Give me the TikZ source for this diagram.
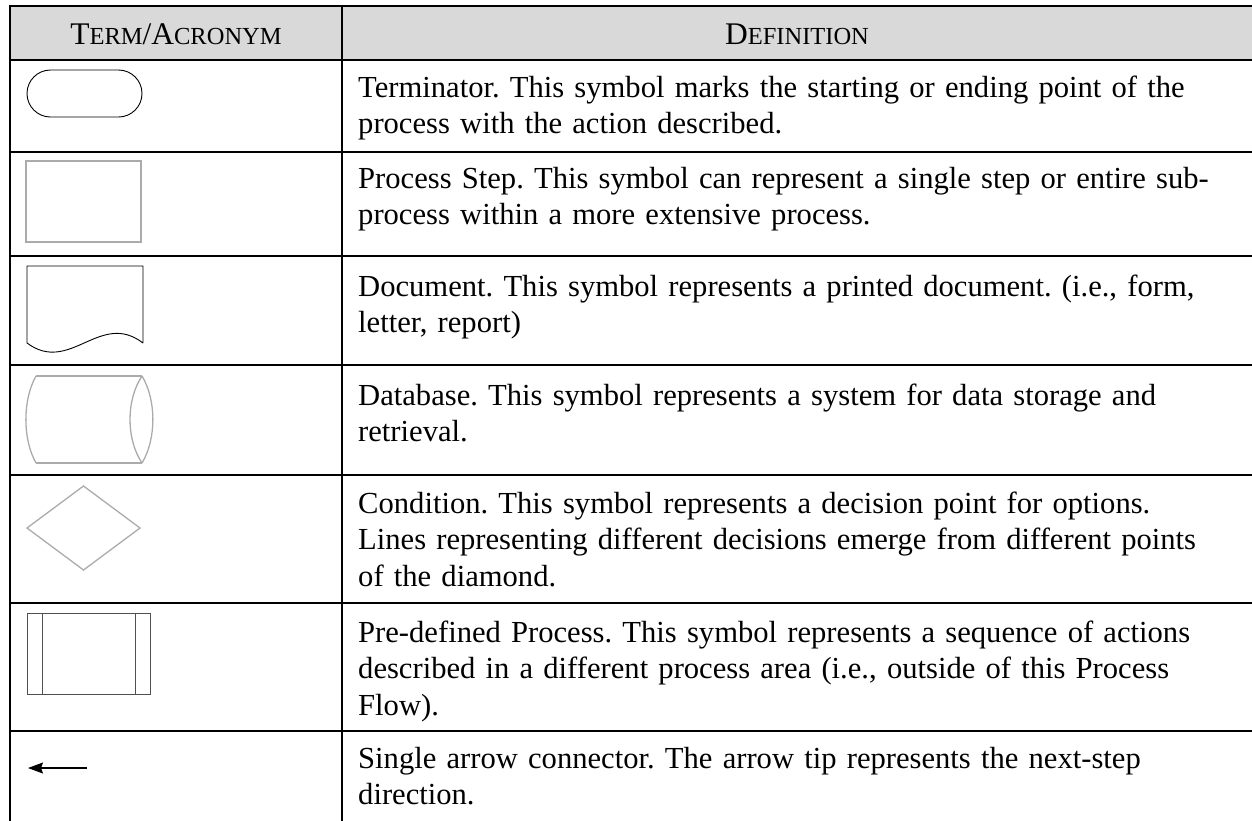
\documentclass[tikz,border=0pt]{standalone}
\usepackage{fontspec}
\setmainfont{Liberation Serif}
\usetikzlibrary{arrows.meta}
\definecolor{headgray}{HTML}{D9D9D9}
\definecolor{symgray}{HTML}{ABABAB}
\definecolor{predark}{HTML}{505050}
\newcommand{\smc}[1]{{\fontsize{24.5}{24.5}\selectfont #1}}
\frenchspacing
\begin{document}
\begin{tikzpicture}[x=1pt,y=-1pt,
  grid/.style={line width=1.6pt, black, line cap=rect},
  sym/.style={line width=0.9pt, black},
  graysym/.style={line width=1.3pt, symgray},
  predef/.style={line width=0.9pt, predark},
  deftext/.style={anchor=base west, inner sep=0pt, text width=1000pt, align=left,
                  font=\fontsize{30.6}{36.5}\selectfont},
  headtext/.style={anchor=base, inner sep=0pt, font=\fontsize{31.5}{36.5}\selectfont}]
\useasboundingbox (0,0) rectangle (1252,820);
% header background
\fill[headgray] (10,6) rectangle (1252,60);
% grid
\foreach \yy in {6,60,152,256,365,475,603,731}
  \draw[grid] (10,\yy) -- (1252,\yy);
\draw[grid] (10,6) -- (10,820);
\draw[grid] (342,6) -- (342,820);
% header
\node[headtext] (hterm) at (176,44) {T\smc{ERM}/A\smc{CRONYM}};
\node[headtext] (hdef) at (797,44) {D\smc{EFINITION}};
% symbols
\draw[sym, rounded corners=23.5pt] (27,70) rectangle (142,117);
\draw[graysym] (26,161) rectangle (141,242);
\draw[sym] (143,343) -- (143,266) -- (27,266) -- (27,343)
  .. controls (70,375) and (100,310) .. (143,343);
\draw[graysym] (36,376) -- (142,376);
\draw[graysym] (36,463) -- (142,463);
\draw[graysym] (36,376) .. controls (22.5,400) and (22.5,439) .. (36,463);
\draw[graysym] (142,376) .. controls (126,400) and (126,439) .. (142,463);
\draw[graysym] (142,376) .. controls (156.5,400) and (156.5,439) .. (142,463);
\draw[graysym] (83.5,486) -- (140,528) -- (83.5,570) -- (27,528) -- cycle;
\draw[predef] (27,613) rectangle (150,694);
\draw[predef] (42,613) -- (42,694);
\draw[predef] (135,613) -- (135,694);
\coordinate (atail) at (87,768);
\coordinate (ahead) at (28,768);
\draw[line width=1.2pt, -{Stealth[length=15pt,width=11pt,inset=2pt]}] (atail) -- (ahead);
% definitions
\node[deftext] (d1) at (358,97) {Terminator. This symbol marks the starting or ending point of the\\process with the action described.};
\node[deftext] (d2) at (358,188) {Process Step. This symbol can represent a single step or entire sub-\\process within a more extensive process.};
\node[deftext] (d3) at (358,296) {Document. This symbol represents a printed document. (i.e., form,\\letter, report)};
\node[deftext] (d4) at (358,405) {Database. This symbol represents a system for data storage and\\retrieval.};
\node[deftext] (d5) at (358,513) {Condition. This symbol represents a decision point for options.\\Lines representing different decisions emerge from different points\\of the diamond.};
\node[deftext] (d6) at (358,642) {Pre-defined Process. This symbol represents a sequence of actions\\described in a different process area (i.e., outside of this Process\\Flow).};
\node[deftext] (d7) at (358,768) {Single arrow connector. The arrow tip represents the next-step\\direction.};
\end{tikzpicture}
\end{document}
